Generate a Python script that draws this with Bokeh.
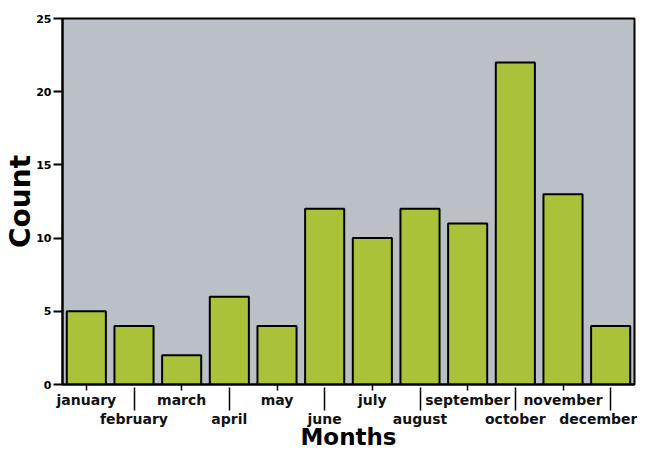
from bokeh.plotting import figure
from bokeh.models import Range1d, LinearAxis, FixedTicker, ColumnDataSource
from bokeh.embed import file_html
from bokeh.resources import INLINE

months = ["january", "february", "march", "april", "may", "june", "july",
          "august", "september", "october", "november", "december"]
counts = [5, 4, 2, 6, 4, 12, 10, 12, 11, 22, 13, 4]
y_ticks = [0, 5, 10, 15, 20, 25]
x_title = "Months"
y_title = "Count"

xpos = list(range(1, len(months) + 1))
src = ColumnDataSource(dict(x=xpos, top=counts, month=months))

p = figure(width=637, height=452, output_backend="svg", toolbar_location=None,
           x_range=Range1d(0.5, len(months) + 0.5), y_range=Range1d(0, 25),
           min_border_left=62, min_border_right=3, min_border_top=18,
           min_border_bottom=50)

p.background_fill_color = "#bbbfc6"
p.border_fill_color = "white"
p.outline_line_color = "black"
p.outline_line_width = 2
p.grid.visible = False

p.vbar(x="x", top="top", width=0.82, source=src, fill_color="#a9c23a",
       line_color="black", line_width=2)

FONT = "DejaVu Sans"

# y axis
ya = p.yaxis[0]
ya.ticker = FixedTicker(ticks=y_ticks)
ya.minor_tick_line_color = None
ya.major_tick_out = 9
ya.major_tick_in = 0
ya.major_tick_line_width = 2
ya.axis_line_width = 2
ya.major_label_text_font = FONT
ya.major_label_text_font_style = "bold"
ya.major_label_text_font_size = "11px"
ya.major_label_text_color = "black"
ya.major_label_standoff = 2
ya.axis_label = y_title
ya.axis_label_text_font = FONT
ya.axis_label_text_font_style = "bold"
ya.axis_label_text_font_size = "28px"
ya.axis_label_text_color = "black"
ya.axis_label_standoff = -4

odd = [x for x in xpos if x % 2 == 1]
even = [x for x in xpos if x % 2 == 0]

# first row (odd months)
xa = p.xaxis[0]
xa.ticker = FixedTicker(ticks=odd)
xa.major_label_overrides = {x: months[x - 1] for x in odd}
xa.minor_tick_line_color = None
xa.major_tick_out = 6
xa.major_tick_in = 0
xa.major_tick_line_width = 1.5
xa.axis_line_width = 2
xa.major_label_standoff = 1
xa.major_label_text_font = FONT
xa.major_label_text_font_style = "bold"
xa.major_label_text_font_size = "14px"
xa.major_label_text_color = "#111111"

# second row (even months)
xb = LinearAxis(ticker=FixedTicker(ticks=even),
                major_label_overrides={x: months[x - 1] for x in even})
xb.axis_line_color = None
xb.minor_tick_line_color = None
xb.major_tick_in = 23
xb.major_tick_out = 0
xb.major_tick_line_width = 1.5
xb.major_label_standoff = 0
xb.major_label_text_font = FONT
xb.major_label_text_font_style = "bold"
xb.major_label_text_font_size = "14px"
xb.major_label_text_color = "#111111"
xb.axis_label = x_title
xb.axis_label_text_font = FONT
xb.axis_label_text_font_style = "bold"
xb.axis_label_text_font_size = "23px"
xb.axis_label_text_color = "black"
xb.axis_label_standoff = -6
p.add_layout(xb, "below")

open("out.html", "w").write(file_html(p, INLINE))
